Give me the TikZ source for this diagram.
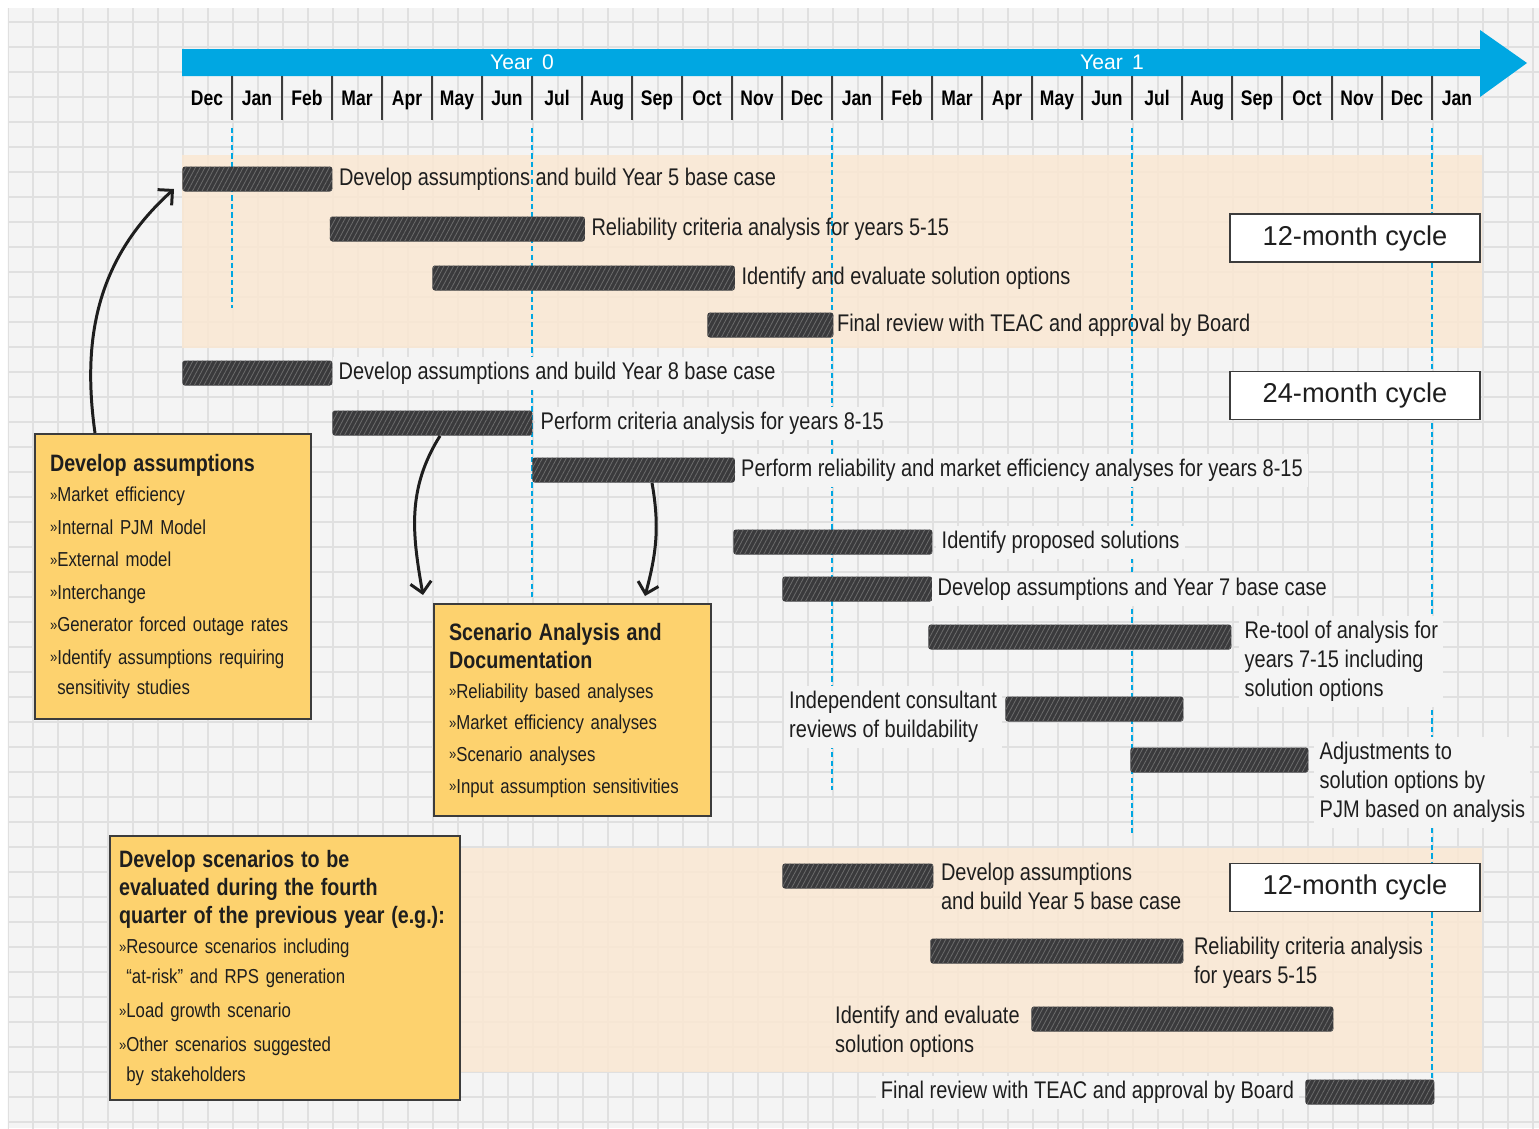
\documentclass[tikz,border=0pt]{standalone}
\usepackage{fontspec}
\setmainfont{Liberation Sans}[FakeStretch=0.83]
\newfontfamily\cyclefont{Liberation Sans}
\usetikzlibrary{positioning, calc, arrows.meta, patterns.meta}

\definecolor{paper}{RGB}{244,244,244}
\definecolor{gridgray}{RGB}{224,224,224}
\definecolor{band}{RGB}{250,232,211}
\definecolor{skyblue}{RGB}{0,167,226}
\definecolor{bardark}{RGB}{58,58,60}
\definecolor{barhatch}{RGB}{108,108,108}
\definecolor{boxfill}{RGB}{253,210,110}
\definecolor{boxline}{RGB}{60,60,60}
\definecolor{ink}{RGB}{30,30,30}

\newcommand\arrowmark{{\fontsize{9}{9}\selectfont\raisebox{0.8pt}{»}}}
\newcommand\boxhead{\bfseries\fontsize{13.5}{16}\selectfont}

\begin{document}
\begin{tikzpicture}[
          bar/.style={
              anchor=west, minimum height=0.5cm, inner sep=0pt,
              rounded corners=1.5pt, fill=bardark,
              postaction={pattern={Lines[angle=62, distance=2.4pt, line width=0.45pt]}, pattern color=barhatch}
          },
          lbl/.style={inner sep=0pt, align=left, text=ink, font=\fontsize{13.7}{16.5}\selectfont},
          backed/.style={fill=paper, inner sep=3pt, outer sep=-3pt},
          info/.style={
              draw=boxline, fill=boxfill, line width=1.2pt, anchor=north west,
              align=left, inner xsep=0.3cm, inner ysep=0pt, text=ink,
              font=\fontsize{11.5}{17}\selectfont
          },
          cycle/.style={
              draw=boxline, fill=white, line width=1.1pt,
              minimum width=5cm, minimum height=0.96cm,
              text=ink, font=\cyclefont\fontsize{15.5}{17}\selectfont
          },
          month/.style={anchor=base, text=black, font=\bfseries\fontsize{12}{14}\selectfont},
          year/.style={text=white, font=\cyclefont\fontsize{12}{14}\selectfont},
          sepline/.style={draw=boxline, line width=1pt},
          milestone/.style={draw=skyblue, line width=0.9pt, dash pattern=on 3pt off 1.8pt},
          curvearrow/.style={draw=ink, line width=1.7pt, -{Straight Barb[length=6pt, width=12pt]}},
      ]
          \useasboundingbox (-3.64,0) rectangle (27.14,-22.56);

          % Paper and grid
          \fill [white] (-3.64,0) rectangle (27.14,-22.56);
          \fill [paper] (-3.48,-0.16) rectangle (27.14,-22.56);
          \begin{scope}
              \clip (-3.48,-0.16) rectangle (27.14,-22.56);
              \draw [gridgray, line width=0.6pt, shift={(0.02,0.06)}] (-4,1) grid [step=0.5] (28,-23);
          \end{scope}

          % Cycle bands
          \fill [band, fill opacity=0.85] (0,-3.1) rectangle (26,-6.96);
          \fill [band, fill opacity=0.85] (0,-16.96) rectangle (26,-21.44);

          % Time axis
          \fill [skyblue] (0,-0.98) -- (25.96,-0.98) -- (25.96,-0.6) -- (26.9,-1.26)
              -- (25.96,-1.94) -- (25.96,-1.52) -- (0,-1.52) -- cycle;
          \node [year] (year0) at (6.8,-1.25) {Year\, 0};
          \node [year] (year1) at (18.6,-1.25) {Year\, 1};
          \foreach \m [count=\i from 0] in {Dec, Jan, Feb, Mar, Apr, May, Jun, Jul, Aug, Sep, Oct, Nov, Dec,
              Jan, Feb, Mar, Apr, May, Jun, Jul, Aug, Sep, Oct, Nov, Dec, Jan}
              \node [month] (m\i) at (\i+0.5,-2.1) {\m};
          \foreach \i in {1,...,25}
              \draw [sepline] (\i,-1.52) -- (\i,-2.4);

          % Milestone lines
          \foreach \x/\yend in {1/-6.16, 7/-12, 13/-15.8, 19/-16.7, 25/-22}
              \draw [milestone] (\x,-2.56) -- (\x,\yend);

          % First 12-month cycle
          \node [bar, minimum width=3cm] (dev5a) at (0,-3.58) {};
          \node [bar, minimum width=5.1cm] (rel5a) at (2.95,-4.58) {};
          \node [bar, minimum width=6.05cm] (sol5a) at (5,-5.56) {};
          \node [bar, minimum width=2.52cm] (fin5a) at (10.5,-6.5) {};
          \node [lbl, right=0.12cm of dev5a] (dev5a_t) {Develop assumptions and build Year 5 base case};
          \node [lbl, right=0.12cm of rel5a] (rel5a_t) {Reliability criteria analysis for years 5-15};
          \node [lbl, right=0.12cm of sol5a] (sol5a_t) {Identify and evaluate solution options};
          \node [lbl, right=0.06cm of fin5a] (fin5a_t) {Final review with TEAC and approval by Board};

          % 24-month cycle
          \node [bar, minimum width=3cm] (dev8) at (0,-7.46) {};
          \node [bar, minimum width=4cm] (crit8) at (3,-8.46) {};
          \node [bar, minimum width=4.05cm] (mkt8) at (7,-9.4) {};
          \node [bar, minimum width=3.98cm] (prop) at (11.02,-10.84) {};
          \node [bar, minimum width=3cm] (dev7) at (12,-11.78) {};
          \node [bar, minimum width=6.06cm] (retool) at (14.92,-12.74) {};
          \node [bar, minimum width=3.56cm] (indep) at (16.46,-14.18) {};
          \node [bar, minimum width=3.56cm] (adjust) at (18.96,-15.2) {};
          \node [lbl, backed, right=0.12cm of dev8] (dev8_t) {Develop assumptions and build Year 8 base case};
          \node [lbl, backed, right=0.16cm of crit8] (crit8_t) {Perform criteria analysis for years 8-15};
          \node [lbl, backed, right=0.12cm of mkt8] (mkt8_t) {Perform reliability and market efficiency analyses for years 8-15};
          \node [lbl, backed, right=0.18cm of prop] (prop_t) {Identify proposed solutions};
          \node [lbl, backed, right=0.1cm of dev7] (dev7_t) {Develop assumptions and Year 7 base case};
          \node [lbl, backed, right=0.26cm of retool.north east, anchor=north west, yshift=1.5pt] (retool_t)
              {Re-tool of analysis for\\years 7-15 including\\solution options};
          \node [lbl, backed, left=0.16cm of indep.north west, anchor=north east, yshift=3pt] (indep_t)
              {Independent consultant\\reviews of buildability};
          \node [lbl, backed, right=0.22cm of adjust.north east, anchor=north west, yshift=3pt] (adjust_t)
              {Adjustments to\\solution options by\\PJM based on analysis};

          % Second 12-month cycle
          \node [bar, minimum width=3.02cm] (dev5b) at (12,-17.52) {};
          \node [bar, minimum width=5.06cm] (rel5b) at (14.96,-19.02) {};
          \node [bar, minimum width=6.04cm] (sol5b) at (16.98,-20.38) {};
          \node [bar, minimum width=2.58cm] (fin5b) at (22.46,-21.84) {};
          \node [lbl, right=0.14cm of dev5b.north east, anchor=north west] (dev5b_t)
              {Develop assumptions\\and build Year 5 base case};
          \node [lbl, right=0.2cm of rel5b.north east, anchor=north west, yshift=1pt] (rel5b_t)
              {Reliability criteria analysis\\for years 5-15};
          \node [lbl, left=0.22cm of sol5b.north west, anchor=north east] (sol5b_t)
              {Identify and evaluate\\solution options};
          \node [lbl, backed, left=0.22cm of fin5b] (fin5b_t) {Final review with TEAC and approval by Board};

          % Note boxes
          \node [info, text width=4.92cm, minimum height=5.7cm] (assume) at (-2.96,-8.66) {%
              {\boxhead Develop assumptions\par}
              \arrowmark Market efficiency\\[1.5pt]
              \arrowmark Internal PJM Model\\[1.5pt]
              \arrowmark External model\\[1.5pt]
              \arrowmark Interchange\\[1.5pt]
              \arrowmark Generator forced outage rates\\[1.5pt]
              \arrowmark Identify assumptions requiring\\
              \phantom{\arrowmark}sensitivity studies};
          \node [info, text width=4.94cm, minimum height=4.24cm] (scen) at (5.02,-12.06) {%
              {\boxhead Scenario Analysis and\\Documentation\par}
              \arrowmark Reliability based analyses\\[1pt]
              \arrowmark Market efficiency analyses\\[1pt]
              \arrowmark Scenario analyses\\[1pt]
              \arrowmark Input assumption sensitivities};
          \node [info, text width=6.64cm, inner xsep=0.18cm, minimum height=5.28cm] (previous) at (-1.46,-16.7) {%
              {\boxhead Develop scenarios to be\\evaluated during the fourth\\quarter of the previous year (e.g.):\par}
              \arrowmark Resource scenarios including\\
              \phantom{\arrowmark}“at-risk” and RPS generation\\[2.5pt]
              \arrowmark Load growth scenario\\[2.5pt]
              \arrowmark Other scenarios suggested\\
              \phantom{\arrowmark}by stakeholders};

          % Cycle tags
          \node [cycle] (cycle12a) at (23.46,-4.76) {12-month cycle};
          \node [cycle] (cycle24) at (23.46,-7.91) {24-month cycle};
          \node [cycle] (cycle12b) at (23.46,-17.75) {12-month cycle};

          % Arrows
          \draw [curvearrow] ($(assume.north west)+(1.22,0)$) to[out=98, in=222] ($(dev5a.west)+(-0.16,-0.2)$);
          \draw [curvearrow] ($(crit8.south west)+(2.16,0)$) to[out=238, in=100] ($(scen.north west)+(-0.2,0.16)$);
          \draw [curvearrow] ($(mkt8.south west)+(2.4,0)$) to[out=-80, in=75] ($(scen.north west)+(4.24,0.14)$);
        \end{tikzpicture}
\end{document}
